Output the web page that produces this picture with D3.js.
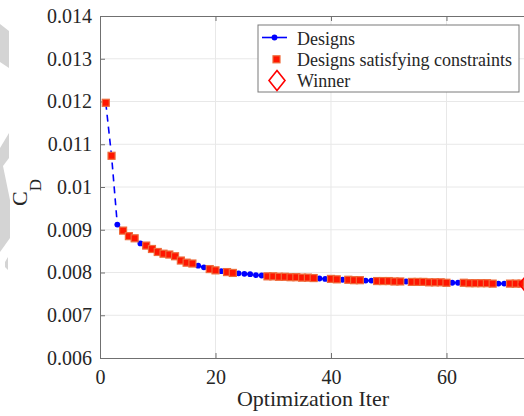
<!DOCTYPE html>
<html><head><meta charset="utf-8">
<script src="https://cdn.jsdelivr.net/npm/d3@7"></script>
<style>body{margin:0;background:#fff}svg{display:block}text{font-family:"Liberation Serif","Times New Roman",serif;fill:#262626}</style>
</head><body><svg id="c" width="524" height="416"></svg>
<script>
const iters = d3.range(1, 75);
const cdValues = [0.01197,0.01073,0.00912,0.00898,0.00885,0.00880,0.00868,0.00863,0.00855,0.00848,
0.00844,0.00842,0.00838,0.00828,0.00823,0.00821,0.00816,0.00812,0.00808,0.00805,
0.00803,0.00801,0.00799,0.00798,0.00797,0.00796,0.00794,0.00793,0.00791,0.00791,
0.00790,0.00790,0.00789,0.00789,0.00788,0.00788,0.00787,0.00786,0.00785,0.00785,
0.00784,0.00783,0.00783,0.00782,0.00782,0.00781,0.00781,0.00780,0.00780,0.00780,
0.00779,0.00779,0.00779,0.00778,0.00778,0.00778,0.00777,0.00777,0.00777,0.00776,
0.00776,0.00776,0.00776,0.00775,0.00775,0.00775,0.00775,0.00774,0.00774,0.00774,
0.00774,0.00774,0.00774,0.00773];
const infeasibleIters = [3,7,17,18,21,24,25,26,27,28,38,39,42,46,47,53,61,62,69,70];
const winnerIter = 74;
const xTicks = [0,20,40,60];
const yTicks = [0.006,0.007,0.008,0.009,0.01,0.011,0.012,0.013,0.014];
const yTickLabels = ["0.006","0.007","0.008","0.009","0.01","0.011","0.012","0.013","0.014"];
const legendLabels = ["Designs","Designs satisfying constraints","Winner"];

const svg = d3.select("#c");
const x = d3.scaleLinear().domain([0,75]).range([100,533.1]);
const y = d3.scaleLinear().domain([0.006,0.014]).range([358,16]);
const data = iters.map((it,i)=>({it, cd: cdValues[i], ok: !infeasibleIters.includes(it)}));

// watermark fragments
const wm = svg.append("g").attr("fill","#d4d4d4");
wm.append("polygon").attr("points","0,24 9,31 9,68 0,62");
wm.append("polygon").attr("points","0,148 9,133 9,158 3,166 10,200 10,238 0,252");
wm.append("polygon").attr("points","5,262 8,257 8,270 5,267");

// grid
svg.append("g").selectAll("line").data(xTicks.slice(1)).join("line")
  .attr("x1",d=>x(d)).attr("x2",d=>x(d)).attr("y1",16).attr("y2",358)
  .attr("stroke","#e8e8e8").attr("stroke-width",1);
svg.append("g").selectAll("line").data(yTicks.slice(1,-1)).join("line")
  .attr("x1",100).attr("x2",524).attr("y1",d=>y(d)).attr("y2",d=>y(d))
  .attr("stroke","#e8e8e8").attr("stroke-width",1);

// axes
const xAxis = svg.append("g").attr("transform","translate(0,358)")
  .call(d3.axisBottom(x).tickValues(xTicks).tickSize(-5).tickPadding(12).tickFormat(d3.format("d")));
const yAxis = svg.append("g").attr("transform","translate(100,0)")
  .call(d3.axisLeft(y).tickValues(yTicks).tickSize(-5).tickPadding(8).tickFormat((d,i)=>yTickLabels[i]));
[xAxis,yAxis].forEach(g=>{
  g.attr("font-family","Liberation Serif, serif").attr("font-size",20);
  g.select(".domain").attr("stroke","#707070").attr("stroke-width",1);
  g.selectAll(".tick line").attr("stroke","#707070");
  g.selectAll("text").style("font-size","20px").attr("fill","#262626").style("font-family","'Liberation Serif',serif");
});
const xTop = svg.append("g").attr("transform","translate(0,16)")
  .call(d3.axisTop(x).tickValues(xTicks).tickSize(-5).tickFormat(""));
xTop.select(".domain").attr("stroke","#707070");
xTop.selectAll(".tick line").attr("stroke","#707070");

// labels
svg.append("text").attr("x",313).attr("y",406).attr("text-anchor","middle")
  .style("font-size","22px").text("Optimization Iter");
const yl = svg.append("text").attr("transform","translate(27,206) rotate(-90)")
  .style("font-size","22px");
yl.append("tspan").text("C");
yl.append("tspan").attr("dy",14).style("font-size","17px").text("D");

// line
const plot = svg.append("g");
plot.append("path").datum(data)
  .attr("d", d3.line().x(d=>x(d.it)).y(d=>y(d.cd)))
  .attr("fill","none").attr("stroke","#0000ff").attr("stroke-width",1.6).attr("stroke-dasharray","7,5");
plot.selectAll("circle").data(data).join("circle")
  .attr("cx",d=>x(d.it)).attr("cy",d=>y(d.cd)).attr("r",2.9).attr("fill","#0000ff");
plot.selectAll("rect.f").data(data.filter(d=>d.ok)).join("rect").attr("class","f")
  .attr("x",d=>x(d.it)-3.5).attr("y",d=>y(d.cd)-3.5).attr("width",7).attr("height",7)
  .attr("fill","#ff1500").attr("stroke","#ee6a3a").attr("stroke-width",1.2);
const w = data.find(d=>d.it===winnerIter);
plot.append("path").attr("transform",`translate(${x(w.it)},${y(w.cd)})`)
  .attr("d","M0,-10 L8,0 L0,10 L-8,0 Z").attr("fill","none").attr("stroke","#ff0000").attr("stroke-width",1.6);

// legend
const lg = svg.append("g");
lg.append("rect").attr("x",258).attr("y",25).attr("width",261).attr("height",67)
  .attr("fill","#fff").attr("stroke","#7a7a7a").attr("stroke-width",1);
lg.append("line").attr("x1",262).attr("x2",287).attr("y1",37.5).attr("y2",37.5).attr("stroke","#0000ff").attr("stroke-width",1.6);
lg.append("circle").attr("cx",274.5).attr("cy",37.5).attr("r",2.9).attr("fill","#0000ff");
lg.append("rect").attr("x",273).attr("y",55.8).attr("width",7).attr("height",7)
  .attr("fill","#ff1500").attr("stroke","#ee6a3a").attr("stroke-width",1.2);
lg.append("path").attr("transform","translate(277,80.5)")
  .attr("d","M0,-10 L8,0 L0,10 L-8,0 Z").attr("fill","none").attr("stroke","#ff0000").attr("stroke-width",1.6);
lg.selectAll("text").data(legendLabels).join("text")
  .attr("x",297).attr("y",(d,i)=>[44.5,65.5,86.5][i]).style("font-size","18px").text(d=>d);
</script></body></html>
